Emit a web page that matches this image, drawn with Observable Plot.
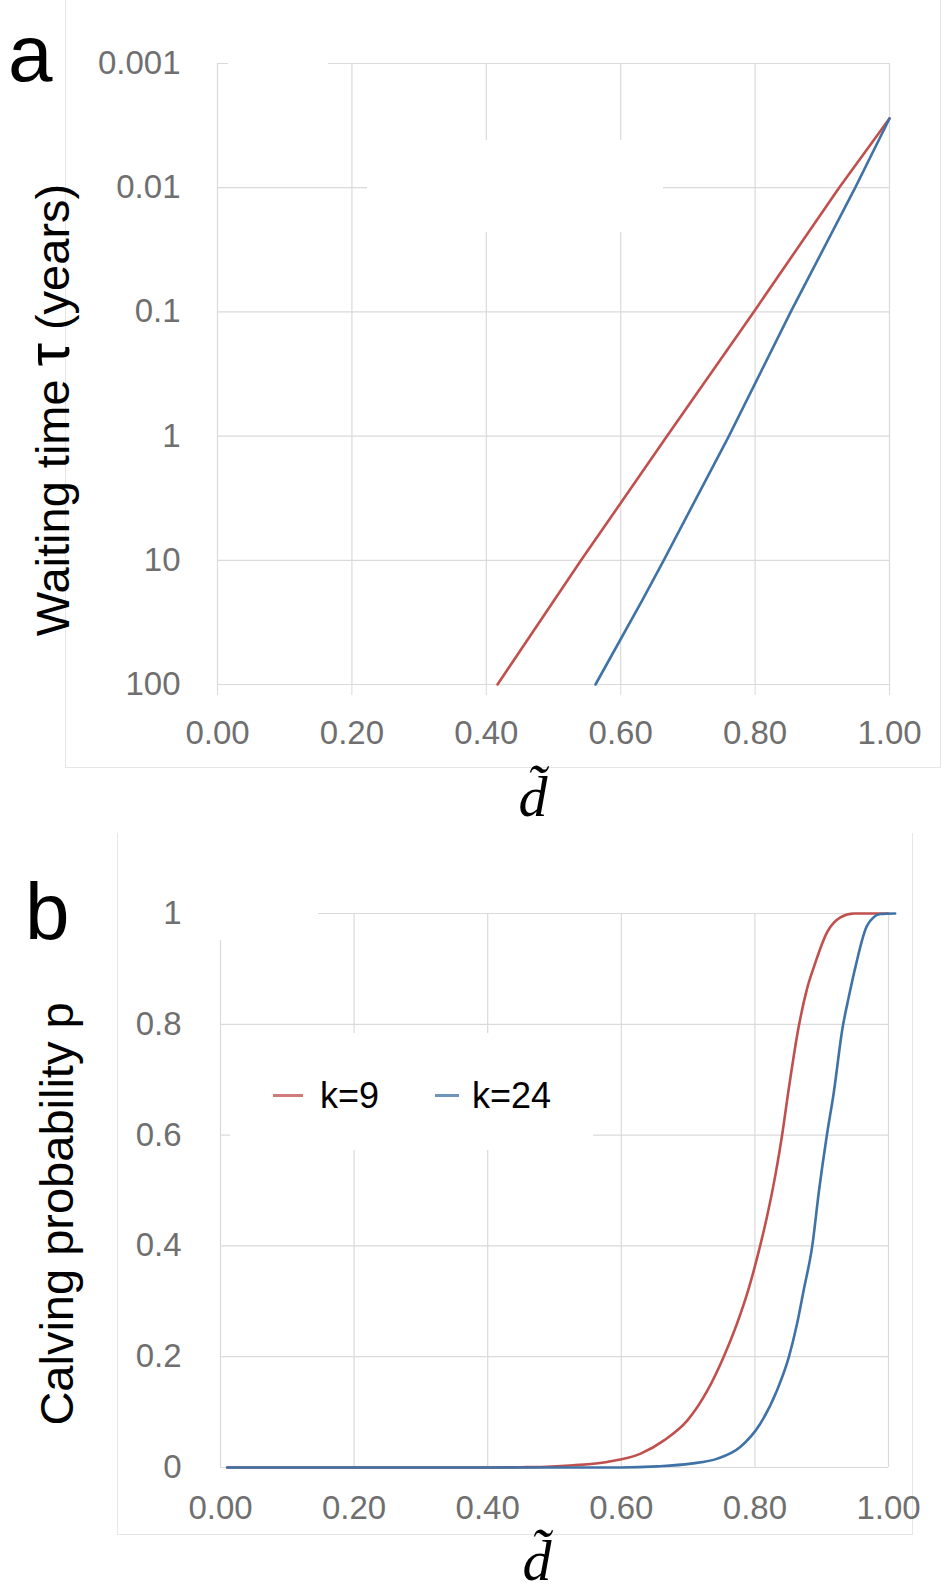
<!DOCTYPE html>
<html>
<head>
<meta charset="utf-8">
<script src="https://cdn.jsdelivr.net/npm/d3@7"></script>
<script src="https://cdn.jsdelivr.net/npm/@observablehq/plot@0.6"></script>
<style>
  body { margin: 0; background: #fff; }
  #wrap { position: relative; width: 950px; height: 1595px; overflow: hidden; font-family: "Liberation Sans", Arial, sans-serif; }
  .abs { position: absolute; }
  .lbl { position: absolute; line-height: 1; white-space: nowrap; color: #000; }
  .patch { position: absolute; background: #fff; }
  .dt { position: absolute; line-height: 1.15; white-space: nowrap; color: #000; font-size: 58px; font-family: 'Liberation Serif', 'DejaVu Serif', serif; font-style: italic; transform: translateX(-50%); }
</style>
</head>
<body>
<div id="wrap">
  <div id="frameA" class="abs" style="left:65px;top:-2px;width:874px;height:768px;border:1.5px solid #e6e6e6;"></div>
  <div id="frameB" class="abs" style="left:117px;top:833px;width:794px;height:701px;border-left:1.5px solid #e6e6e6;border-right:1.5px solid #e6e6e6;border-bottom:1.5px solid #e6e6e6;"></div>
  <div id="plotA" class="abs" style="left:0;top:0;"></div>
  <div id="plotB" class="abs" style="left:0;top:800px;"></div>
  <div class="patch" style="left:367px;top:140px;width:296px;height:92px;"></div>
  <div class="patch" style="left:228px;top:58px;width:100px;height:10px;"></div>
  <div class="patch" style="left:214px;top:905px;width:104px;height:35px;"></div>
  <div id="legend" class="abs" style="left:230px;top:1033px;width:363px;height:117px;background:#fff;"></div>

  <div class="lbl" style="left:8px;top:14px;font-size:80px;">a</div>
  <div class="lbl" style="left:25px;top:872px;font-size:80px;">b</div>
  <div class="lbl" style="left:48.7px;top:410px;font-size:47px;transform:translate(-50%,-50%) rotate(-90deg);">Waiting time <span style="font-size:1.25em;">τ</span> (years)</div>
  <div class="lbl" style="left:55.7px;top:1214px;font-size:47px;transform:translate(-50%,-50%) rotate(-90deg);">Calving probability p</div>
  <div class="dt" style="left:533px;top:764px;">d̃</div>
  <div class="dt" style="left:537px;top:1528px;">d̃</div>
</div>
<script>
// ---- tick values and labels ----
const dTicks = [0, 0.2, 0.4, 0.6, 0.8, 1.0];
const dTickLabels = ["0.00", "0.20", "0.40", "0.60", "0.80", "1.00"];
const tauTicks = [0.001, 0.01, 0.1, 1, 10, 100];
const tauTickLabels = ["0.001", "0.01", "0.1", "1", "10", "100"];
const pTicks = [0, 0.2, 0.4, 0.6, 0.8, 1];
const pTickLabels = ["0", "0.2", "0.4", "0.6", "0.8", "1"];

// ---- series ----
const seriesNames = ["k=9", "k=24"];
const seriesColors = ["#c0504d", "#3f72a6"];

// panel a: waiting time tau (years) vs d
const tauD_k9  = [0.4167, 0.541, 0.669, 0.798, 0.925, 1.0];
const tau_k9   = [100, 10, 1, 0.1, 0.01, 0.00277];
const tauD_k24 = [0.5625, 0.632, 0.664, 0.761, 0.853, 0.949, 1.0];
const tau_k24  = [100, 21, 10, 1, 0.1, 0.01, 0.00277];

// panel b: calving probability p vs d
const pD_k9  = [0.01, 0.40, 0.45, 0.48, 0.528, 0.579, 0.629, 0.664, 0.699, 0.729, 0.753, 0.773, 0.790, 0.808, 0.818, 0.831, 0.841, 0.850, 0.865, 0.878, 0.889, 0.908, 0.928, 0.948, 1.0];
const p_k9   = [0, 0, 0.0005, 0.001, 0.004, 0.010, 0.025, 0.049, 0.085, 0.139, 0.199, 0.259, 0.32, 0.401, 0.452, 0.530, 0.602, 0.678, 0.792, 0.864, 0.906, 0.966, 0.993, 1.0, 1.0];
const pD_k24 = [0.01, 0.60, 0.654, 0.704, 0.744, 0.778, 0.808, 0.833, 0.851, 0.863, 0.873, 0.886, 0.896, 0.908, 0.918, 0.931, 0.941, 0.951, 0.968, 0.988, 1.01];
const p_k24  = [0, 0, 0.002, 0.007, 0.016, 0.037, 0.079, 0.139, 0.2, 0.259, 0.32, 0.401, 0.5, 0.602, 0.676, 0.792, 0.852, 0.906, 0.978, 0.999, 1.0];

const rowsA = [
  ...tauD_k9.map((d, i) => ({d, v: tau_k9[i], s: seriesNames[0]})),
  ...tauD_k24.map((d, i) => ({d, v: tau_k24[i], s: seriesNames[1]}))
];
const rowsB = [
  ...pD_k9.map((d, i) => ({d, v: p_k9[i], s: seriesNames[0]})),
  ...pD_k24.map((d, i) => ({d, v: p_k24[i], s: seriesNames[1]}))
];

const gridColor = "#dadada";
const tickTextColor = "#6f6f6f";
const baseStyle = {fontFamily: "'Liberation Sans', Arial, sans-serif", fontSize: "33px", background: "transparent", overflow: "visible"};
const colorScale = {domain: seriesNames, range: seriesColors};

const plotA = Plot.plot({
  width: 950, height: 800,
  marginLeft: 217, marginRight: 61, marginTop: 63, marginBottom: 116,
  style: baseStyle,
  x: {domain: [0, 1], label: null},
  y: {type: "log", domain: [0.001, 100], reverse: true, label: null},
  color: colorScale,
  marks: [
    Plot.gridX(dTicks, {stroke: gridColor, strokeOpacity: 1, strokeWidth: 1.2}),
    Plot.gridY(tauTicks, {stroke: gridColor, strokeOpacity: 1, strokeWidth: 1.2}),
    Plot.axisX(dTicks, {tickSize: 11, tickPadding: 25, stroke: gridColor, fill: tickTextColor, fontSize: 33, label: null,
      tickFormat: d => dTickLabels[dTicks.indexOf(d)]}),
    Plot.axisY(tauTicks, {tickSize: 0, tickPadding: 37, fill: tickTextColor, fontSize: 33, label: null,
      tickFormat: d => tauTickLabels[tauTicks.indexOf(d)]}),
    Plot.line(rowsA, {x: "d", y: "v", z: "s", stroke: "s", strokeWidth: 2.6})
  ]
});
document.getElementById("plotA").appendChild(plotA);

const plotB = Plot.plot({
  width: 950, height: 795,
  marginLeft: 220, marginRight: 62, marginTop: 113, marginBottom: 128,
  style: baseStyle,
  x: {domain: [0, 1], label: null},
  y: {domain: [0, 1], label: null},
  color: colorScale,
  marks: [
    Plot.gridX(dTicks, {stroke: gridColor, strokeOpacity: 1, strokeWidth: 1.2}),
    Plot.gridY(pTicks, {stroke: gridColor, strokeOpacity: 1, strokeWidth: 1.2}),
    Plot.axisX(dTicks, {tickSize: 0, tickPadding: 28, fill: tickTextColor, fontSize: 33, label: null,
      tickFormat: d => dTickLabels[dTicks.indexOf(d)]}),
    Plot.axisY(pTicks, {tickSize: 0, tickPadding: 39, fill: tickTextColor, fontSize: 33, label: null,
      tickFormat: d => pTickLabels[pTicks.indexOf(d)]}),
    Plot.line(rowsB, {x: "d", y: "v", z: "s", stroke: "s", strokeWidth: 2.6, curve: "monotone-x"})
  ]
});
document.getElementById("plotB").appendChild(plotB);

// legend (HTML, built from the series arrays)
const legend = document.getElementById("legend");
const legendItems = [
  {lineLeft: 43, lineWidth: 30, textLeft: 90},
  {lineLeft: 205, lineWidth: 24, textLeft: 242}
];
seriesNames.forEach((name, i) => {
  const it = legendItems[i];
  const sw = document.createElement("div");
  sw.style.cssText = `position:absolute;left:${it.lineLeft}px;top:61px;width:${it.lineWidth}px;height:3px;background:${seriesColors[i]};opacity:0.75;`;
  legend.appendChild(sw);
  const tx = document.createElement("div");
  tx.className = "lbl";
  tx.style.cssText += `left:${it.textLeft}px;top:44.5px;font-size:36px;`;
  tx.textContent = name;
  legend.appendChild(tx);
});
</script>
</body>
</html>
